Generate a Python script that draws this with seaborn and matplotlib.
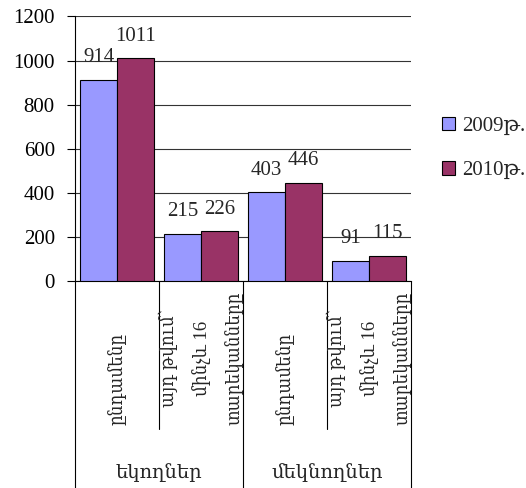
import matplotlib.pyplot as plt
import pandas as pd
import seaborn as sns
from matplotlib.patches import Patch
from matplotlib.transforms import blended_transform_factory

sns.set_style("white")
plt.rcParams['font.family'] = ['Liberation Serif', 'DejaVu Serif']

# Data
groups = ["եկողներ", "մեկնողներ"]
sub_labels = ["ընդամենը", "այդ թվում՝\nմինչև 16\nտարեկանները"]
years = ["2009թ.", "2010թ."]
values_2009 = [914, 215, 403, 91]
values_2010 = [1011, 226, 446, 115]
colors = ["#9999FF", "#993366"]

cats = [f"{g}|{s}" for g in groups for s in sub_labels]
df = pd.DataFrame({
    "cat": cats * 2,
    "year": [years[0]] * 4 + [years[1]] * 4,
    "value": values_2009 + values_2010,
})

fig = plt.figure(figsize=(5.26, 4.88), dpi=100)
ax = fig.add_axes([75 / 526, 207 / 488, 336 / 526, 264.5 / 488])

sns.barplot(data=df, x="cat", y="value", hue="year", order=cats, hue_order=years,
            palette=colors, saturation=1, width=0.88, edgecolor="black",
            linewidth=0.8, legend=False, ax=ax, zorder=3)

for cont in ax.containers:
    ax.bar_label(cont, padding=9, fontsize=15)

ax.set_xlim(-0.5, 3.5)
ax.set_ylim(0, 1200)
ax.set_yticks(range(0, 1201, 200))
ax.yaxis.grid(True, color="#333333", linewidth=0.8, zorder=0)
ax.set_axisbelow(True)
ax.tick_params(axis="y", which="major", left=True, length=6, width=0.8,
               direction="out", pad=8.5, labelsize=15, colors="black")
ax.tick_params(axis="x", bottom=False, labelbottom=False)
ax.set_xlabel("")
ax.set_ylabel("")
for s in ["top", "right"]:
    ax.spines[s].set_visible(False)
for s in ["left", "bottom"]:
    ax.spines[s].set_color("black")
    ax.spines[s].set_linewidth(0.8)

# multi-level category table below the axis
tr = blended_transform_factory(ax.transData, ax.transAxes)
short_y = -148 / 264.5
full_y = -207 / 264.5
for i, xpos in enumerate([-0.5, 0.5, 1.5, 2.5, 3.5]):
    ybot = full_y if i % 2 == 0 else short_y
    ax.plot([xpos, xpos], [0, ybot], color="black", linewidth=0.8,
            transform=tr, clip_on=False)

for i, c in enumerate(cats):
    sub = c.split("|")[1]
    ax.text(i, short_y + 4 / 264.5, sub, rotation=90, ha="center", va="bottom",
            multialignment="center", linespacing=1.95, fontsize=13.5,
            fontstretch="condensed", transform=tr)

for j, g in enumerate(groups):
    ax.text(2 * j + 0.5, -192 / 264.5, g, ha="center", va="center",
            fontsize=14, transform=tr)

handles = [Patch(facecolor=colors[k], edgecolor="black", linewidth=0.8, label=years[k])
           for k in range(2)]
fig.legend(handles=handles, loc="center left", bbox_to_anchor=(442 / 526, 339.5 / 488),
           frameon=False, fontsize=15, borderpad=0, borderaxespad=0,
           handlelength=0.62, handleheight=0.62, handletextpad=0.33,
           labelspacing=1.2)

fig.savefig("out.png", dpi=100)
